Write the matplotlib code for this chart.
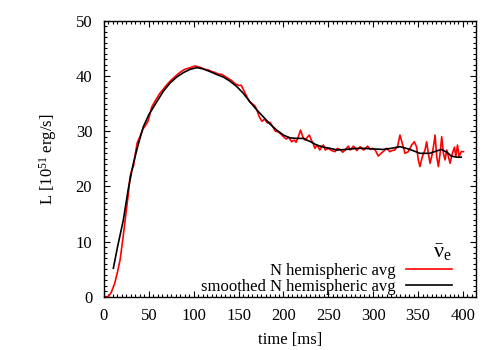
"""
Luminosity vs time, N hemispheric average of anti-nu_e, raw and smoothed
"""

import matplotlib
matplotlib.use("Agg")
import matplotlib.pyplot as plt
import matplotlib.ticker as ticker

# ---- data ----
red_t = [0, 5, 8, 12, 15, 18, 21, 24, 27, 29, 31, 33, 35, 37, 40, 43, 46, 49, 51, 53,
         56, 59, 62, 66, 70, 74, 78, 82, 86, 90, 94, 98, 101, 104, 108, 112, 116, 120,
         124, 128, 131, 134, 138, 142, 146, 150, 153, 156, 159, 162, 165, 168, 170, 173,
         176, 179, 182, 185, 188, 191, 194, 197, 200, 203, 206, 209, 212, 214, 216.5,
         219, 221.5, 224, 226, 228.8, 231, 233, 235, 237.5, 240.5, 242.5, 244.5, 246.5,
         250, 253.5, 257.5, 260, 263, 266, 268.5, 272.3, 274.2, 276, 278, 281.7, 285.4,
         289.2, 291, 293.6, 296.6, 299, 302.2, 305.6, 308, 311, 314.9, 318.6, 321, 324,
         327.2, 329.8, 332.4, 335.4, 339, 342.8, 345.8, 348.4, 350.2, 352, 354.7, 357.7,
         359.5, 361.4, 363.3, 365.1, 367, 368.9, 370.7, 372.6, 374.5, 376.3, 378.2, 380,
         381.9, 383.8, 385.6, 388.2, 390.5, 392, 393.9, 395.7, 398, 400.6]
red_L = [0.0, 0.1, 0.8, 2.5, 4.5, 6.8, 10.5, 14.5, 18.5, 21.8, 23.0, 23.8, 26.0, 27.9,
         29.0, 30.3, 31.0, 31.8, 33.0, 34.3, 35.2, 36.0, 36.8, 37.6, 38.4, 39.1, 39.7,
         40.3, 40.8, 41.2, 41.4, 41.6, 41.8, 41.7, 41.5, 41.2, 41.1, 40.8, 40.6, 40.3,
         40.3, 40.0, 39.6, 39.2, 38.6, 38.3, 38.3, 37.3, 36.3, 35.4, 35.0, 34.6, 34.0,
         32.6, 31.8, 32.2, 31.5, 31.6, 30.8, 30.0, 29.9, 29.5, 29.0, 28.6, 28.9, 28.1,
         28.4, 28.0, 29.0, 30.2, 29.0, 28.4, 28.8, 29.3, 28.4, 27.8, 26.9, 27.5, 26.6,
         27.2, 27.5, 26.6, 26.9, 26.5, 26.3, 26.9, 26.7, 26.2, 26.6, 27.3, 26.6, 26.9,
         27.3, 26.5, 27.2, 26.6, 26.8, 27.3, 26.7, 26.9, 26.6, 25.5, 25.9, 26.3, 26.9,
         26.3, 26.5, 26.6, 27.3, 29.3, 27.8, 26.0, 26.3, 27.5, 28.1, 27.1, 24.8, 23.6,
         25.4, 26.6, 28.1, 26.0, 24.2, 25.4, 27.1, 29.3, 25.4, 23.6, 26.0, 29.0, 26.0,
         24.8, 26.6, 25.4, 24.2, 26.0, 27.1, 25.4, 27.5, 25.4, 26.3, 26.3]

smooth_t = [10.4, 15, 21.5, 27, 32.7, 38, 43.8, 50, 58.7, 66, 73.5, 81, 88.4, 96, 103.3,
            110, 118, 125, 133, 140, 147.8, 155, 162.7, 170, 177.5, 185, 192.4, 200, 207,
            215, 222, 230, 237, 245, 251.8, 260, 270, 281.5, 290, 300, 311, 320, 330,
            341, 352, 363, 370, 376, 382, 387, 393, 398]
smooth_L = [5.2, 9.0, 13.9, 19.5, 24.2, 27.5, 30.8, 33.0, 35.3, 37.2, 38.7, 39.8, 40.6,
            41.2, 41.5, 41.3, 40.8, 40.3, 39.8, 39.1, 38.1, 36.9, 35.3, 33.9, 32.6, 31.3,
            30.2, 29.3, 28.8, 28.7, 28.7, 28.1, 27.5, 27.1, 26.9, 26.6, 26.7, 26.9, 26.9,
            26.8, 26.7, 26.9, 27.2, 26.7, 26.0, 26.0, 26.4, 26.7, 26.2, 25.5, 25.3, 25.3]

LABEL_RAW = "N hemispheric avg"
LABEL_SMOOTH = "smoothed N hemispheric avg"
LEGEND_TITLE = r"$\bar{\nu}_{e}$"

# ---- style ----
FONT_SIZE = 12
plt.rcParams["font.family"] = ["Liberation Serif", "DejaVu Serif"]
plt.rcParams["font.size"] = FONT_SIZE
plt.rcParams["mathtext.fontset"] = "custom"
plt.rcParams["mathtext.rm"] = "Liberation Serif"
plt.rcParams["mathtext.it"] = "Liberation Serif"
plt.rcParams["axes.linewidth"] = 1.0

fig = plt.figure(figsize=(5.0, 3.5), dpi=100)
ax = fig.add_axes([0.208, 0.1514, 0.744, 0.7895])

ln_raw, = ax.plot(red_t, red_L, color="#ff0000", lw=1.2, label=LABEL_RAW)
ln_smooth, = ax.plot(smooth_t, smooth_L, color="black", lw=1.2, label=LABEL_SMOOTH)

ax.set_xlim(0, 414.5)
ax.set_ylim(0, 50)
ax.xaxis.set_major_locator(ticker.MultipleLocator(50))
ax.xaxis.set_minor_locator(ticker.MultipleLocator(5))
ax.yaxis.set_major_locator(ticker.MultipleLocator(10))
ax.yaxis.set_minor_locator(ticker.MultipleLocator(1))
ax.tick_params(which="both", direction="in", top=True, right=True, width=0.8)
ax.tick_params(which="major", length=4.5)
ax.tick_params(which="minor", length=2.2)
ax.tick_params(axis="y", which="major", pad=8.5)
ax.tick_params(axis="x", which="major", pad=8)

ax.set_xlabel("time [ms]", labelpad=6)
ax.set_ylabel(r"L [10$^{51}$ erg/s]", labelpad=12)

leg = ax.legend(handles=[ln_raw, ln_smooth], title=LEGEND_TITLE, loc="lower right",
                bbox_to_anchor=(0.967, -0.035), frameon=False, markerfirst=False,
                handlelength=2.75, handletextpad=0.65, labelspacing=0.0,
                alignment="right", borderpad=0.2, title_fontsize=16)

fig.savefig("out.png", dpi=100)
